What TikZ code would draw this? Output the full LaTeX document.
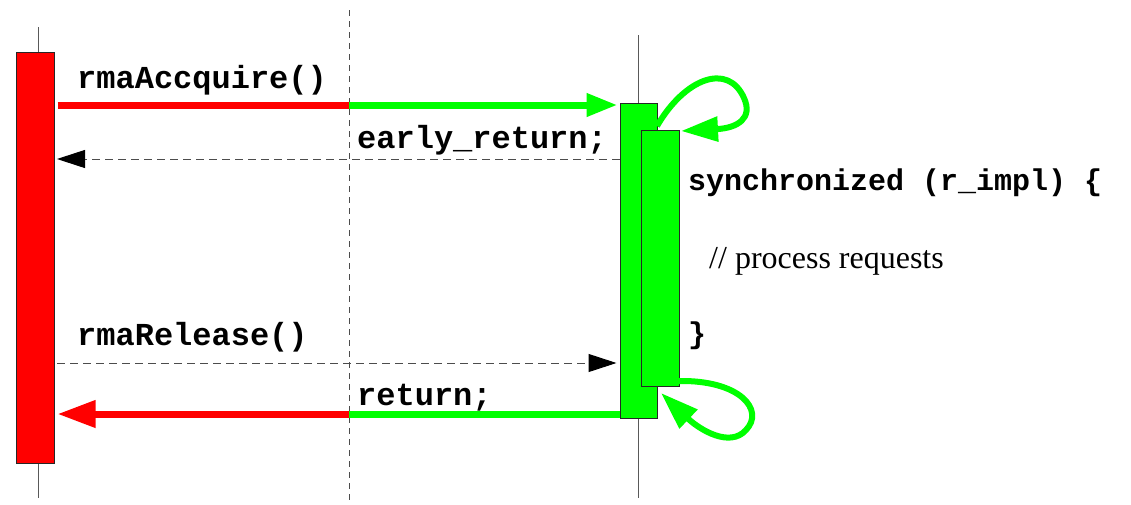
\documentclass[tikz,border=0pt]{standalone}
\usepackage{fontspec}
\setmainfont{Liberation Serif}
\newfontfamily\codefont{Liberation Mono}
\usetikzlibrary{arrows.meta}
\definecolor{rgreen}{RGB}{0,255,0}
\definecolor{rred}{RGB}{255,0,0}
\tikzset{
  life/.style={draw=gray!70!black, line width=1},
  divider/.style={draw=gray!60!black, line width=1, dash pattern=on 6 off 5},
  redbar/.style={draw=gray!30!black, fill=rred, line width=1, rectangle, inner sep=0},
  greenbar/.style={draw=gray!30!black, fill=rgreen, line width=1, rectangle, inner sep=0},
  redmsg/.style={draw=rred, line width=7},
  greenmsg/.style={draw=rgreen, line width=7},
  dashmsg/.style={draw=gray!60!black, line width=1, dash pattern=on 8 off 5},
  loop/.style={draw=rgreen, line width=6},
  codelabel/.style={anchor=base west, inner sep=0, font=\codefont\bfseries\fontsize{32}{38}\selectfont},
  codelabelsmall/.style={anchor=base west, inner sep=0, font=\codefont\bfseries\fontsize{30}{36}\selectfont},
  textlabel/.style={anchor=base west, inner sep=0, font=\fontsize{32}{38}\selectfont},
}
\begin{document}
\begin{tikzpicture}[x=1pt,y=-1pt]
\useasboundingbox (0,0) rectangle (1131,504);
% lifelines
\draw[life] (38,27) -- (38,498);
\draw[life] (638,35) -- (638,498);
\draw[divider] (349,10) -- (349,504);
% bars
\node[redbar, minimum width=38, minimum height=411] (A) at (35,257.5) {};
\node[greenbar, minimum width=37, minimum height=315] (B) at (638.5,260.5) {};
\node[greenbar, minimum width=38, minimum height=256] (C) at (660,258) {};
% coordinates
\coordinate (m1) at (349,105);
\coordinate (e1) at (57,159);
\coordinate (r1) at (57,363);
\coordinate (m4) at (349,414);
% rmaAccquire
\draw[redmsg] ([xshift=3]A.east |- m1) -- (m1);
\draw[greenmsg, -{Triangle[length=31,width=22]}] (m1) -- ([xshift=-2]B.west |- m1);
% early_return
\draw[dashmsg, -{Triangle[length=28,width=18,color=black]}] (B.west |- e1) -- (e1);
% rmaRelease
\draw[dashmsg, -{Triangle[length=28,width=18,color=black]}] (r1) -- ([xshift=-3]B.west |- r1);
% return
\draw[greenmsg] (B.west |- m4) -- (m4);
\draw[redmsg, -{Triangle[length=38,width=26]}] (m4) -- ([xshift=3]A.east |- m4);
% self loops
\coordinate (l1s) at (657,126);
\coordinate (l1e) at (681,131);
\draw[loop, -{Triangle[length=37,width=24]}] (l1s) .. controls (685,78) and (728,62) .. (744,98) .. controls (753,118) and (738,128) .. (l1e);
\coordinate (l2s) at (679,381);
\coordinate (l2e) at (661,393);
\draw[loop, -{Triangle[length=38,width=25]}] (l2s) .. controls (740,380) and (765,410) .. (746,430) .. controls (730,448) and (700,430) .. (l2e);
% labels
\node[codelabel] (t1) at (77,88) {rmaAccquire()};
\node[codelabel] (t2) at (357,148) {early\_return;};
\node[codelabel] (t3) at (77,345) {rmaRelease()};
\node[codelabel] (t4) at (357,405) {return;};
\node[codelabelsmall] (t5) at (688,190) {synchronized (r\_impl) \{};
\node[textlabel] (t6) at (709,268) {// process requests};
\node[codelabelsmall] (t7) at (688,343) {\}};
\end{tikzpicture}
\end{document}
